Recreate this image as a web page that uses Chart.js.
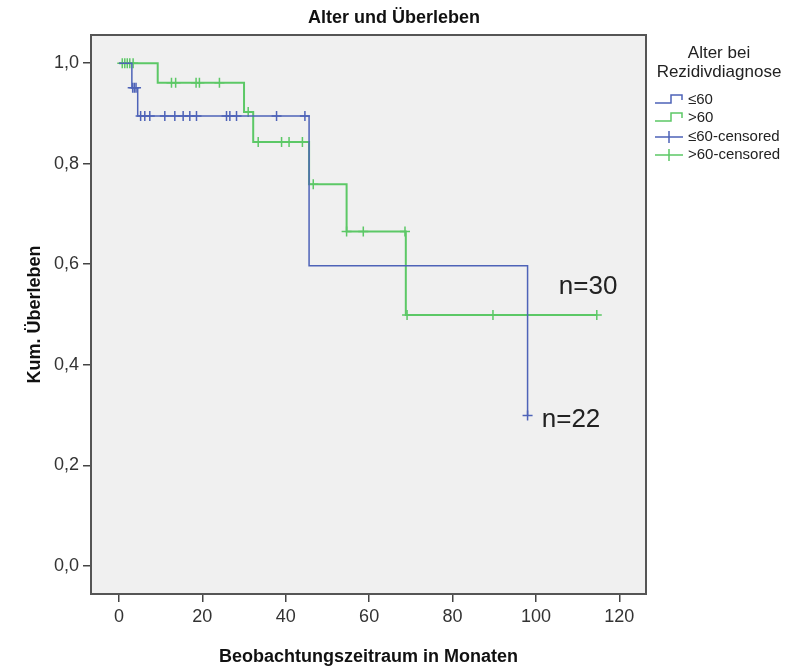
<!DOCTYPE html>
<html>
<head>
<meta charset="utf-8">
<script src="https://cdn.jsdelivr.net/npm/chart.js@4"></script>
<style>
  html, body { margin: 0; padding: 0; background: #fff; }
  #wrap { width: 789px; height: 670px; }
</style>
</head>
<body>
<div id="wrap"><canvas id="km" width="789" height="670"></canvas></div>
<script>
// Kaplan-Meier steps (time in months, cumulative survival)
const blueTimes = [0, 3.1, 4.5, 45.6, 98.0];
const blueSurv  = [1.0, 0.951, 0.895, 0.597, 0.299];
const greenTimes = [0, 9.3, 30.0, 32.2, 45.6, 54.6, 68.8, 114.6];
const greenSurv  = [1.0, 0.961, 0.903, 0.843, 0.759, 0.665, 0.499, 0.499];

// censored observations
const blueCensorTimes = [3.3, 3.7, 4.1, 5.2, 6.2, 7.4, 11.0, 13.4, 15.4, 17.0, 18.6, 25.8, 26.6, 28.2, 37.8, 44.6, 98.0];
const blueCensorSurv  = [0.951, 0.951, 0.951, 0.895, 0.895, 0.895, 0.895, 0.895, 0.895, 0.895, 0.895, 0.895, 0.895, 0.895, 0.895, 0.895, 0.299];
const greenCensorTimes = [0.8, 1.4, 2.0, 2.6, 3.4, 12.6, 13.6, 18.5, 19.3, 24.1, 31.0, 33.4, 39.0, 40.8, 44.0, 46.6, 54.6, 58.6, 68.6, 69.1, 89.7, 114.6];
const greenCensorSurv  = [1.0, 1.0, 1.0, 1.0, 1.0, 0.961, 0.961, 0.961, 0.961, 0.961, 0.903, 0.843, 0.843, 0.843, 0.843, 0.759, 0.665, 0.665, 0.665, 0.499, 0.499, 0.499];

const xTickValues = [0, 20, 40, 60, 80, 100, 120];
const yTickValues = [0, 0.2, 0.4, 0.6, 0.8, 1.0];

const legendLabels = ['≤60', '>60', '≤60-censored', '>60-censored'];

const BLUE = '#4e63b8';
const GREEN = '#5cc866';
const FONT = "'Liberation Sans', Arial, sans-serif";

function pts(xs, ys) {
  return xs.map((x, i) => ({ x: x, y: ys[i] }));
}

const frame = {
  id: 'frame',
  beforeDraw(chart) {
    const { ctx, chartArea: a } = chart;
    ctx.save();
    ctx.fillStyle = '#f0f0f0';
    ctx.fillRect(a.left, a.top, a.right - a.left, a.bottom - a.top);
    ctx.restore();
  },
  afterDraw(chart) {
    const { ctx, chartArea: a, scales } = chart;
    ctx.save();
    ctx.strokeStyle = '#555';
    ctx.lineWidth = 2;
    ctx.strokeRect(a.left, a.top, a.right - a.left, a.bottom - a.top);

    // title
    ctx.fillStyle = '#111';
    ctx.font = 'bold 18px ' + FONT;
    ctx.textAlign = 'center';
    ctx.textBaseline = 'middle';
    ctx.fillText('Alter und Überleben', 394, 18);

    // group sizes
    ctx.font = '26px ' + FONT;
    ctx.textAlign = 'left';
    ctx.fillStyle = '#222';
    ctx.fillText('n=30', scales.x.getPixelForValue(105.5), scales.y.getPixelForValue(0.555));
    ctx.fillText('n=22', scales.x.getPixelForValue(101.4), scales.y.getPixelForValue(0.29));

    // legend
    ctx.fillStyle = '#222';
    ctx.font = '17px ' + FONT;
    ctx.textAlign = 'center';
    ctx.fillText('Alter bei', 719, 53);
    ctx.fillText('Rezidivdiagnose', 719, 72);
    ctx.font = '15px ' + FONT;
    ctx.textAlign = 'left';
    const rows = [100, 118, 137, 155];
    const cols = [BLUE, GREEN, BLUE, GREEN];
    legendLabels.forEach((lab, i) => {
      const y = rows[i];
      ctx.strokeStyle = cols[i];
      ctx.lineWidth = 1.5;
      ctx.beginPath();
      if (i < 2) {
        ctx.moveTo(655, y + 3);
        ctx.lineTo(671, y + 3);
        ctx.lineTo(671, y - 5);
        ctx.lineTo(682, y - 5);
        ctx.lineTo(682, y);
      } else {
        ctx.moveTo(655, y);
        ctx.lineTo(683, y);
        ctx.moveTo(669, y - 6);
        ctx.lineTo(669, y + 6);
      }
      ctx.stroke();
      ctx.fillText(lab, 688, y);
    });
    ctx.restore();
  }
};

new Chart(document.getElementById('km'), {
  type: 'line',
  data: {
    datasets: [
      { label: legendLabels[0], data: pts(blueTimes, blueSurv), stepped: 'before',
        borderColor: BLUE, borderWidth: 1.5, pointRadius: 0, fill: false },
      { label: legendLabels[1], data: pts(greenTimes, greenSurv), stepped: 'before',
        borderColor: GREEN, borderWidth: 2, pointRadius: 0, fill: false },
      { label: legendLabels[2], type: 'scatter', data: pts(blueCensorTimes, blueCensorSurv),
        pointStyle: 'cross', pointRadius: 5, borderColor: BLUE, borderWidth: 1.5, showLine: false },
      { label: legendLabels[3], type: 'scatter', data: pts(greenCensorTimes, greenCensorSurv),
        pointStyle: 'cross', pointRadius: 5, borderColor: GREEN, borderWidth: 1.5, showLine: false }
    ]
  },
  options: {
    responsive: false,
    animation: false,
    layout: { padding: { top: 35, right: 143, left: 0, bottom: 0 } },
    plugins: { legend: { display: false }, tooltip: { enabled: false }, title: { display: false } },
    scales: {
      x: {
        type: 'linear', min: -6.7, max: 126.4,
        afterBuildTicks: s => { s.ticks = xTickValues.map(v => ({ value: v })); },
        afterFit: s => { s.height = 76; },
        grid: { drawOnChartArea: false, drawTicks: true, tickLength: 8, color: '#444', lineWidth: 1.5 },
        border: { display: false },
        ticks: { color: '#333', font: { size: 18, family: FONT }, padding: 4, maxRotation: 0 },
        title: { display: true, text: 'Beobachtungszeitraum in Monaten', color: '#111',
                 font: { size: 18, weight: 'bold', family: FONT }, padding: { top: 0, bottom: 2 } }
      },
      y: {
        type: 'linear', min: -0.056, max: 1.056,
        afterBuildTicks: s => { s.ticks = yTickValues.map(v => ({ value: v })); },
        afterFit: s => { s.width = 91; },
        grid: { drawOnChartArea: false, drawTicks: true, tickLength: 8, color: '#444', lineWidth: 1.5 },
        border: { display: false },
        ticks: { color: '#333', font: { size: 18, family: FONT }, padding: 4,
                 callback: v => v.toFixed(1).replace('.', ',') },
        title: { display: true, text: 'Kum. Überleben', color: '#111',
                 font: { size: 18, weight: 'bold', family: FONT }, padding: { top: 24, bottom: 0 } }
      }
    }
  },
  plugins: [frame]
});
</script>
</body>
</html>
